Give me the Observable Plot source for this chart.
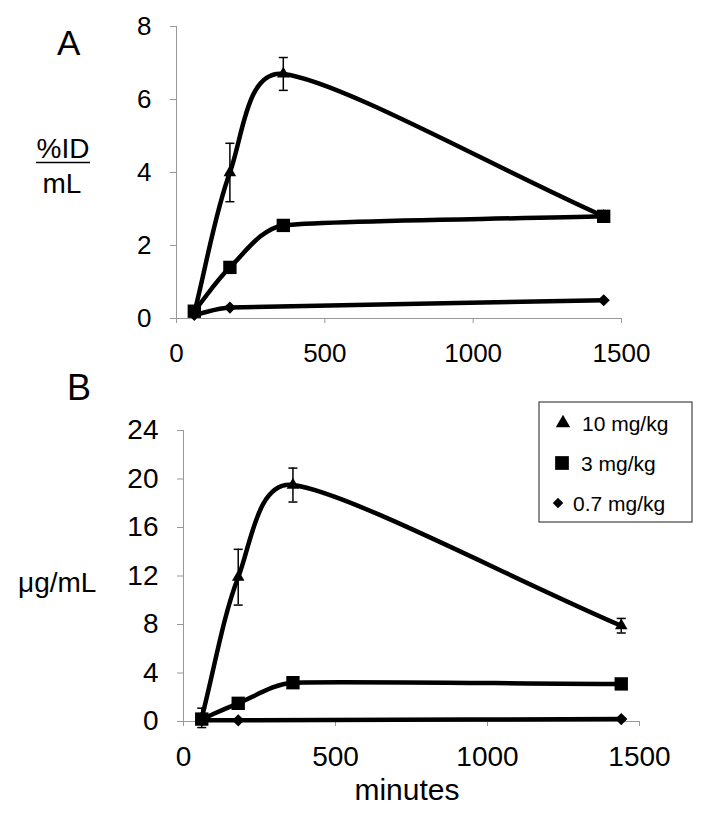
<!DOCTYPE html>
<html><head><meta charset="utf-8">
<script src="https://cdn.jsdelivr.net/npm/d3@7"></script>
<script src="https://cdn.jsdelivr.net/npm/@observablehq/plot@0.6"></script>
<style>
body{margin:0;background:#fff;}
#wrap{position:relative;width:714px;height:815px;overflow:hidden;font-family:"Liberation Sans",Arial,sans-serif;background:#fff;}
#wrap svg{position:absolute;left:0;}
</style>
</head><body><div id="wrap"></div>
<script>
// ---- data ----
const times = [60, 180, 360, 1440];
const timesLow = [60, 180, 1440];
const series = ["10 mg/kg", "3 mg/kg", "0.7 mg/kg"];
const symbols = ["triangle2", "square2", "diamond2"];
const aHigh = [0.15, 4.0, 6.7, 2.8];
const aHighErr = [0, 0.8, 0.45, 0];
const aMid = [0.2, 1.4, 2.55, 2.8];
const aLow = [0.1, 0.3, 0.5];
const bHigh = [0.3, 11.9, 19.5, 7.9];
const bHighErr = [0.8, 2.3, 1.4, 0.6];
const bMid = [0.2, 1.5, 3.2, 3.1];
const bLow = [0.1, 0.1, 0.2];
const xTicks = [0, 500, 1000, 1500];
const aTicks = [0, 2, 4, 6, 8];
const bTicks = [0, 4, 8, 12, 16, 20, 24];

const FONT = '"Liberation Sans", Arial, sans-serif';
const capSymbol = {draw(ctx) { ctx.moveTo(-4.5, 0); ctx.lineTo(4.5, 0); }};

// spreadsheet-style smoothed line
function smoothCurve(context) {
  const K = 1 / 3;
  let pts;
  return {
    areaStart() {}, areaEnd() {},
    lineStart() { pts = []; },
    point(x, y) { pts.push([+x, +y]); },
    lineEnd() {
      const n = pts.length;
      if (!n) return;
      context.moveTo(pts[0][0], pts[0][1]);
      if (n === 1) return;
      const seg = [];
      for (let i = 0; i < n - 1; i++) seg.push(Math.hypot(pts[i + 1][0] - pts[i][0], pts[i + 1][1] - pts[i][1]));
      const tan = pts.map((p, i) => {
        const a = pts[Math.max(0, i - 1)], b = pts[Math.min(n - 1, i + 1)];
        const dx = b[0] - a[0], dy = b[1] - a[1];
        const l = Math.hypot(dx, dy) || 1;
        return [dx / l, dy / l];
      });
      const harm = pts.map((p, i) => (i > 0 && i < n - 1) ? 2 * seg[i - 1] * seg[i] / (seg[i - 1] + seg[i]) : Infinity);
      for (let i = 0; i < n - 1; i++) {
        const p = pts[i], q = pts[i + 1];
        const h1 = K * Math.min(seg[i], harm[i]);
        const h2 = K * Math.min(seg[i], harm[i + 1]);
        context.bezierCurveTo(p[0] + tan[i][0] * h1, p[1] + tan[i][1] * h1,
          q[0] - tan[i + 1][0] * h2, q[1] - tan[i + 1][1] * h2, q[0], q[1]);
      }
    }
  };
}

function rows(xs, ys, name, errs) {
  return xs.map((t, i) => ({t, v: ys[i], s: name, e: errs ? errs[i] : 0}));
}

function panel({high, highErr, mid, low, yMax, yTicks, top, height, mTop, mBottom, mLeft, mRight, fs}) {
  const dHigh = rows(times, high, series[0], highErr);
  const dMid = rows(times, mid, series[1]);
  const dLow = rows(timesLow, low, series[2]);
  const all = [...dHigh, ...dMid, ...dLow];
  const errs = dHigh.filter(d => d.e > 0);
  const svg = Plot.plot({
    width: 714, height,
    marginTop: mTop, marginBottom: mBottom, marginLeft: mLeft, marginRight: mRight,
    style: {fontFamily: FONT, fontSize: fs + "px", background: "transparent", overflow: "visible"},
    x: {domain: [0, 1500]},
    y: {domain: [0, yMax]},
    marks: [
      Plot.ruleX([0], {y1: 0, y2: yMax, stroke: "#999", strokeWidth: 1}),
      Plot.ruleY([0], {x1: 0, x2: 1500, stroke: "#999", strokeWidth: 1}),
      Plot.axisY({ticks: yTicks, tickFormat: d => String(d), tickSize: 6, tickPadding: 19, stroke: "#999", fill: "black", fontSize: fs, label: null}),
      Plot.axisX({ticks: xTicks, tickFormat: d => String(d), tickSize: 5, tickPadding: 20, stroke: "#999", fill: "black", fontSize: fs, label: null}),
      Plot.ruleX(errs, {x: "t", y1: d => d.v - d.e, y2: d => d.v + d.e, stroke: "black", strokeWidth: 1.5}),
      Plot.dot(errs, {x: "t", y: d => d.v + d.e, symbol: capSymbol, stroke: "black", strokeWidth: 1.5, fill: "none"}),
      Plot.dot(errs, {x: "t", y: d => d.v - d.e, symbol: capSymbol, stroke: "black", strokeWidth: 1.5, fill: "none"}),
      Plot.line(all, {x: "t", y: "v", z: "s", curve: smoothCurve, stroke: "black", strokeWidth: 4.5, strokeLinejoin: "round"}),
      Plot.dot(dHigh, {x: "t", y: "v", symbol: symbols[0], r: 6, fill: "black"}),
      Plot.dot(dMid, {x: "t", y: "v", symbol: symbols[1], r: 8.5, fill: "black"}),
      Plot.dot(dLow, {x: "t", y: "v", symbol: symbols[2], r: 5.5, fill: "black"})
    ]
  });
  svg.style.top = top + "px";
  return svg;
}

const wrap = document.getElementById("wrap");
wrap.appendChild(panel({high: aHigh, highErr: aHighErr, mid: aMid, low: aLow, yMax: 8, yTicks: aTicks,
  top: 0, height: 370, mTop: 26, mBottom: 52, mLeft: 176, mRight: 93, fs: 26}));
wrap.appendChild(panel({high: bHigh, highErr: bHighErr, mid: bMid, low: bLow, yMax: 24, yTicks: bTicks,
  top: 360, height: 455, mTop: 70, mBottom: 94, mLeft: 183, mRight: 75, fs: 28}));

// ---- overlay texts & legend ----
const ov = d3.select(wrap).append("svg").attr("width", 714).attr("height", 815)
  .style("top", "0px").style("font-family", FONT);
ov.append("text").attr("x", 57).attr("y", 55).attr("font-size", 35).text("A");
ov.append("text").attr("x", 67).attr("y", 400).attr("font-size", 36).text("B");
ov.append("text").attr("x", 63).attr("y", 158).attr("font-size", 28).attr("text-anchor", "middle").text("%ID");
ov.append("line").attr("x1", 36).attr("x2", 90).attr("y1", 162.5).attr("y2", 162.5).attr("stroke", "black").attr("stroke-width", 1.5);
ov.append("text").attr("x", 62).attr("y", 193).attr("font-size", 28).attr("text-anchor", "middle").text("mL");
ov.append("text").attr("x", 18).attr("y", 592).attr("font-size", 28).text("μg/mL");
ov.append("text").attr("x", 407).attr("y", 800).attr("font-size", 30).attr("text-anchor", "middle").text("minutes");

const lg = ov.append("g");
lg.append("rect").attr("x", 539).attr("y", 402).attr("width", 153).attr("height", 120)
  .attr("fill", "white").attr("stroke", "#444").attr("stroke-width", 1.2);
const legendSym = [d3.symbolTriangle2, d3.symbolSquare2, d3.symbolDiamond2];
const legendSize = [150, 240, 70];
const legendSymX = [563, 562, 558];
const legendTextX = [582, 581, 573];
const legendY = [423, 463, 503];
series.forEach((name, i) => {
  lg.append("path").attr("d", d3.symbol(legendSym[i], legendSize[i])())
    .attr("transform", `translate(${legendSymX[i]},${legendY[i]})`).attr("fill", "black");
  lg.append("text").attr("x", legendTextX[i]).attr("y", legendY[i] + 8).attr("font-size", 21).text(name);
});
</script>
</body></html>
